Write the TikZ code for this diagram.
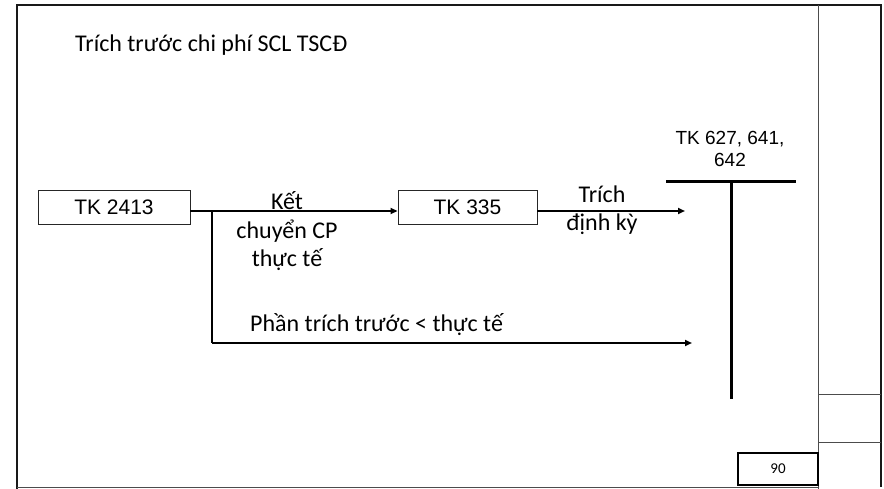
\documentclass[tikz,border=0pt]{standalone}
\usepackage{fontspec}
\setmainfont{Carlito}
\newfontfamily\arialfont{Liberation Sans}
\usetikzlibrary{arrows.meta}
\begin{document}
\begin{tikzpicture}[x=1pt,y=-1pt,
  acct/.style={draw=black!85,line width=0.9pt,minimum height=34pt,inner sep=0pt,
    font=\arialfont\fontsize{21}{24}\selectfont},
  lbl/.style={inner sep=0pt,anchor=base,font=\fontsize{24}{29}\selectfont},
  flow/.style={line width=2pt,-{Triangle[length=7pt,width=6pt]}},
  tline/.style={line width=3pt},
  frame/.style={line width=2.4pt,black!90},
  thin/.style={line width=1pt,black!70}]
\useasboundingbox (0,0) rectangle (884,489);
% slide frame
\draw[frame] (17,489) -- (17,5) -- (881,5) -- (881,487);
\draw[thin] (17,487.5) -- (818,487.5);
\draw[thin] (818,5) -- (818,489);
\draw[thin] (818,394) -- (881,394);
\draw[thin] (818,442) -- (881,442);
% page number
\node[draw=black,line width=1.2pt,minimum width=80pt,minimum height=32pt,inner sep=0pt,
  font=\fontsize{15}{18}\selectfont] (pg) at (778,469) {90};
% title
\node[lbl,anchor=base west] (title) at (75,52) {Trích trước chi phí SCL TSCĐ};
% accounts
\node[acct,minimum width=152pt] (tk2413) at (114,207) {TK 2413};
\node[acct,minimum width=139pt] (tk335) at (467.5,207.5) {TK 335};
% T-account
\coordinate (tl) at (666,182);
\coordinate (tr) at (796,182);
\coordinate (tt) at (731,182);
\coordinate (tb) at (731,399);
\draw[tline] (tl) -- (tr);
\draw[tline] (tt) -- (tb);
\node[inner sep=0pt,anchor=base,font=\arialfont\fontsize{19}{23}\selectfont] (tkname1) at (730,145) {TK 627, 641,};
\node[inner sep=0pt,anchor=base,font=\arialfont\fontsize{19}{23}\selectfont] (tkname2) at (730,167) {642};
% flows
\coordinate (br) at (212,211);
\coordinate (bc) at (212,343);
\coordinate (e1) at (685,211);
\coordinate (e2) at (692,343);
\draw[flow] (tk2413.east |- br) -- (tk335.west |- br);
\draw[line width=2pt] (br) -- (bc);
\draw[flow] (bc) -- (e2);
\draw[flow] (tk335.east |- e1) -- (e1);
% flow labels
\node[lbl] (k1) at (287,210) {Kết};
\node[lbl] (k2) at (287,239) {chuyển CP};
\node[lbl] (k3) at (287,267) {thực tế};
\node[lbl] (t1) at (602,203) {Trích};
\node[lbl] (t2) at (602,231) {định kỳ};
\node[lbl,anchor=base west] (p1) at (250,331) {Phần trích trước < thực tế};
\end{tikzpicture}
\end{document}
